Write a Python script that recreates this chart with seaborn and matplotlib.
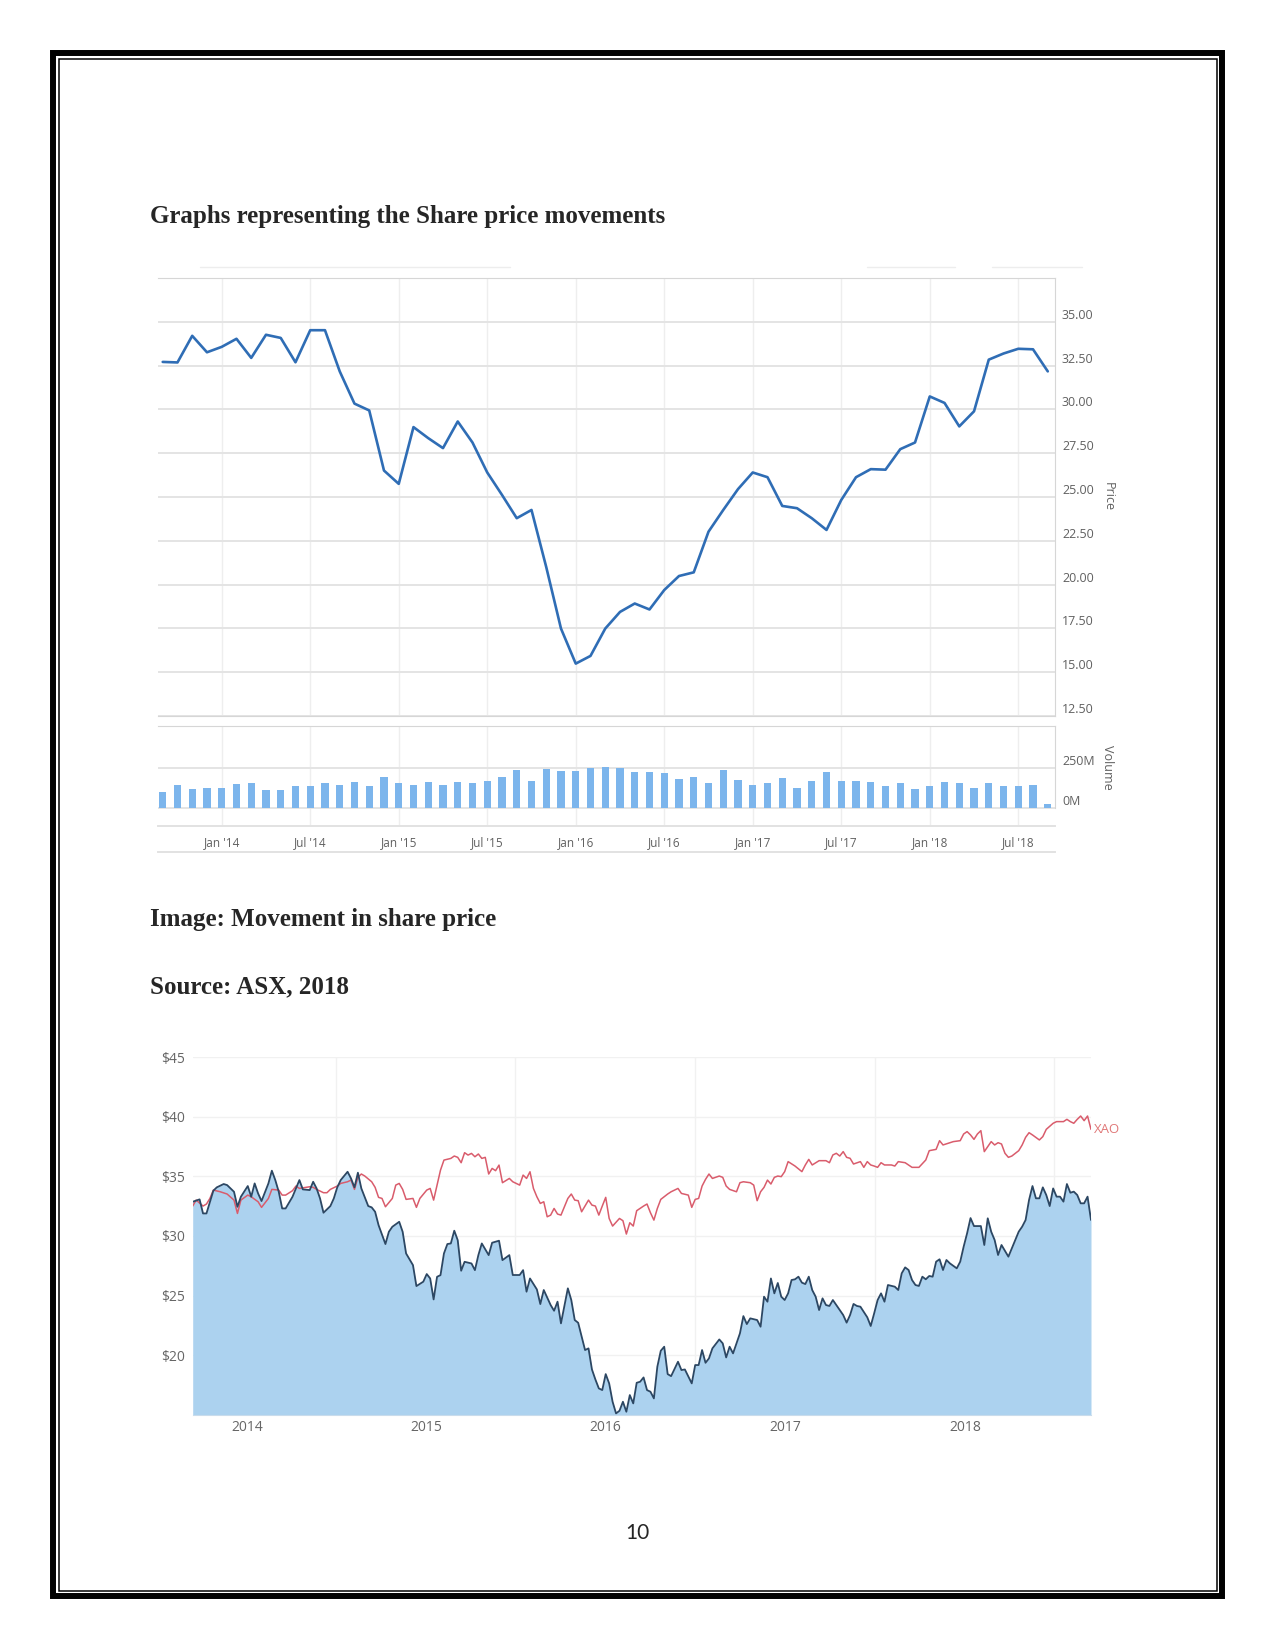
import numpy as np
import pandas as pd
import matplotlib.pyplot as plt
import matplotlib.dates as mdates
from matplotlib.patches import Rectangle
from matplotlib.lines import Line2D
import seaborn as sns

W, H = 1275, 1650

# --- chart 1: monthly share price and volume, Sep 2013 .. Sep 2018 ---
price = [32.71, 32.68, 34.20, 33.26,
         33.57, 34.03, 32.94, 34.26, 34.08, 32.69, 34.52, 34.52, 32.17, 30.33, 29.94, 26.51,
         25.75, 28.99, 28.36, 27.79, 29.31, 28.11, 26.40, 25.12, 23.79, 24.26, 21.00, 17.49,
         15.49, 15.93, 17.49, 18.44, 18.92, 18.58, 19.69, 20.49, 20.70, 23.02, 24.26, 25.45,
         26.40, 26.13, 24.49, 24.36, 23.79, 23.12, 24.83, 26.13, 26.59, 26.56, 27.73, 28.11,
         30.74, 30.37, 29.03, 29.89, 32.84, 33.19, 33.46, 33.43, 32.17]
volume_m = [102, 144, 117, 129,
            129, 150, 155, 112, 112, 138, 138, 155, 148, 163, 138, 197,
            155, 148, 163, 144, 163, 155, 172, 197, 237, 172, 244, 231,
            235, 250, 261, 250, 229, 229, 218, 182, 197, 155, 239, 176,
            144, 155, 191, 129, 172, 225, 172, 172, 165, 138, 155, 117,
            138, 165, 155, 123, 155, 138, 138, 144, 23]
month_ticks = [4, 10, 16, 22, 28, 34, 40, 46, 52, 58]
month_labels = ["Jan '14", "Jul '14", "Jan '15", "Jul '15", "Jan '16",
                "Jul '16", "Jan '17", "Jul '17", "Jan '18", "Jul '18"]
price_ticks = [12.5, 15, 17.5, 20, 22.5, 25, 27.5, 30, 32.5, 35]

# --- chart 2: weekly price vs XAO, weeks counted from 13 Sep 2013 ---
week0 = '2013-09-13'
stock_weeks = [0, 2, 3, 4, 6, 7, 9, 10, 12, 13, 14, 16, 17, 18, 19, 20, 22, 23, 24, 25,
               26, 27, 29, 30, 31, 32, 34, 35, 36, 37, 38, 40, 41, 42, 43, 45, 46, 47, 48, 49,
               51, 52, 53, 54, 56, 57, 58, 60, 61, 62, 64, 65, 67, 68, 69, 70, 71, 72, 73, 74,
               75, 76, 77, 78, 79, 81, 82, 83, 84, 86, 87, 89, 90, 92, 93, 95, 96, 97, 98, 100,
               101, 102, 104, 105, 106, 107, 109, 110, 111, 112, 114, 115, 116, 117, 118, 119, 120, 121, 122, 123,
               124, 125, 126, 127, 128, 129, 130, 131, 132, 133, 134, 135, 136, 137, 138, 139, 141, 142, 143, 145,
               146, 147, 148, 149, 150, 151, 153, 154, 155, 156, 157, 159, 160, 161, 162, 164, 165, 166, 167, 168,
               169, 170, 171, 172, 173, 174, 175, 176, 177, 178, 179, 180, 181, 182, 183, 184, 185, 186, 187, 188,
               189, 190, 191, 192, 193, 194, 196, 197, 198, 199, 200, 201, 202, 204, 205, 206, 207, 208, 209, 210,
               211, 212, 213, 214, 215, 216, 217, 218, 219, 220, 222, 223, 224, 225, 226, 227, 229, 230, 231, 232,
               233, 234, 235, 237, 238, 240, 241, 242, 243, 244, 245, 246, 247, 248, 249, 250, 251, 252, 253, 254,
               255, 256, 257, 258, 259, 260, 261]
stock_px = [32.87, 33.07, 31.89, 31.89, 33.80, 34.08, 34.36, 34.27, 33.71, 32.45, 33.29, 34.19, 33.29, 34.41, 33.57, 32.93, 34.41, 35.48, 34.69, 33.71,
            32.31, 32.31, 33.29, 33.99, 34.69, 33.91, 33.85, 34.55, 33.99, 33.15, 31.95, 32.51, 33.15, 34.08, 34.69, 35.39, 34.83, 34.08, 35.31, 33.99,
            32.51, 32.40, 32.03, 30.91, 29.32, 30.35, 30.77, 31.19, 30.35, 28.53, 27.55, 25.79, 26.16, 26.80, 26.43, 24.67, 26.57, 26.71, 28.53, 29.32,
            29.37, 30.44, 29.65, 27.08, 27.83, 27.69, 27.13, 28.39, 29.37, 28.39, 29.43, 29.60, 27.97, 28.39, 26.72, 26.72, 27.13, 25.32, 26.43, 25.51,
            24.28, 25.46, 24.20, 23.72, 24.48, 22.66, 25.60, 24.62, 22.94, 22.71, 20.42, 20.56, 18.79, 17.95, 17.20, 17.06, 18.40, 17.62, 16.08, 15.10,
            15.32, 16.08, 15.24, 16.64, 15.94, 17.67, 17.76, 18.12, 17.06, 16.92, 16.36, 19.02, 20.36, 20.70, 18.40, 18.23, 19.44, 18.74, 18.79, 17.62,
            19.16, 19.16, 20.42, 19.35, 19.72, 20.56, 21.31, 20.98, 19.80, 20.70, 20.14, 21.82, 23.27, 22.60, 23.08, 22.94, 22.38, 24.90, 24.48, 26.43,
            25.18, 26.05, 24.90, 24.62, 25.18, 26.30, 26.36, 26.58, 26.08, 25.96, 26.58, 25.46, 24.90, 23.78, 24.76, 24.20, 24.12, 24.62, 24.20, 23.78,
            23.36, 22.72, 23.36, 24.29, 24.12, 24.06, 23.17, 22.44, 23.50, 24.62, 25.18, 24.48, 25.88, 25.74, 25.46, 26.86, 27.36, 27.14, 26.30, 25.88,
            25.80, 26.58, 26.36, 26.64, 26.58, 27.84, 28.04, 27.14, 27.98, 27.70, 27.28, 27.84, 29.10, 30.22, 31.50, 30.83, 30.83, 29.24, 31.48, 30.36,
            29.66, 28.40, 29.24, 28.26, 28.96, 30.36, 30.78, 31.34, 33.02, 34.19, 33.16, 33.16, 34.08, 33.44, 32.51, 33.99, 33.30, 33.30, 32.88, 34.36,
            33.63, 33.72, 33.44, 32.74, 32.74, 33.30, 31.34]
xao_weeks = [0, 1, 3, 4, 5, 6, 8, 10, 12, 13, 14, 16, 17, 19, 20, 22, 23, 25, 26, 27,
             29, 30, 31, 33, 34, 35, 36, 38, 39, 40, 42, 43, 45, 46, 47, 48, 49, 50, 52, 53,
             54, 55, 56, 58, 59, 60, 61, 62, 64, 65, 66, 68, 69, 70, 71, 72, 73, 75, 76, 77,
             78, 79, 80, 81, 82, 83, 84, 85, 86, 87, 88, 89, 90, 92, 93, 95, 96, 97, 98, 99,
             100, 101, 102, 103, 104, 105, 106, 107, 109, 110, 111, 112, 113, 115, 116, 117, 118, 119, 120, 121,
             122, 124, 125, 126, 127, 128, 129, 131, 132, 133, 134, 135, 136, 137, 138, 139, 141, 142, 144, 145,
             146, 147, 148, 149, 150, 151, 153, 154, 155, 156, 158, 159, 160, 162, 163, 164, 165, 166, 167, 168,
             169, 170, 171, 172, 173, 175, 177, 178, 179, 180, 182, 184, 185, 186, 187, 188, 189, 190, 191, 192,
             194, 195, 196, 197, 198, 199, 200, 201, 203, 204, 205, 207, 208, 209, 211, 213, 214, 216, 217, 218,
             220, 221, 223, 224, 225, 226, 227, 228, 229, 230, 231, 232, 233, 234, 235, 236, 237, 238, 240, 241,
             242, 243, 244, 246, 247, 248, 250, 251, 253, 254, 255, 256, 257, 258, 259, 260, 261]
xao_px = [32.51, 33.01, 32.51, 32.68, 33.15, 33.85, 33.71, 33.52, 33.01, 31.89, 33.01, 33.43, 33.29, 32.87, 32.40, 33.15, 33.91, 33.85, 33.43, 33.43,
          33.80, 34.19, 33.99, 34.08, 34.13, 34.08, 33.91, 33.63, 33.63, 33.91, 34.19, 34.41, 34.55, 34.69, 33.91, 34.92, 35.20, 35.03, 34.55, 34.08,
          33.24, 33.15, 32.45, 33.15, 34.27, 34.41, 33.91, 33.07, 33.15, 32.40, 33.15, 33.85, 33.99, 33.01, 34.27, 35.53, 36.37, 36.51, 36.71, 36.60,
          36.15, 36.99, 36.79, 36.93, 36.65, 36.88, 36.51, 36.60, 35.20, 35.67, 35.48, 35.95, 34.47, 34.83, 34.55, 34.27, 35.11, 34.83, 35.39, 33.99,
          33.29, 32.73, 32.87, 31.61, 31.75, 32.31, 31.84, 31.75, 33.15, 33.52, 33.01, 32.96, 32.03, 33.01, 32.59, 32.51, 31.75, 32.51, 33.24, 31.47,
          30.83, 31.47, 31.28, 30.16, 31.11, 30.83, 32.12, 32.51, 32.68, 31.95, 31.33, 32.31, 33.07, 33.29, 33.52, 33.71, 33.99, 33.57, 33.43, 32.40,
          33.07, 33.15, 34.19, 34.75, 35.20, 34.83, 35.03, 34.92, 34.19, 33.91, 33.71, 34.47, 34.55, 34.47, 34.27, 32.96, 33.71, 34.08, 34.69, 34.36,
          34.92, 35.03, 34.98, 35.40, 36.24, 35.87, 35.40, 35.96, 36.43, 35.96, 36.32, 36.32, 36.15, 36.80, 36.94, 36.71, 37.08, 36.60, 36.52, 36.04,
          36.24, 35.76, 36.24, 35.96, 35.87, 35.76, 36.15, 35.96, 35.96, 35.87, 36.24, 36.15, 35.96, 35.76, 35.76, 36.38, 37.16, 37.27, 38.00, 37.64,
          37.83, 37.92, 38.00, 38.56, 38.76, 38.48, 38.11, 38.56, 38.84, 37.08, 37.50, 37.92, 37.64, 37.83, 37.72, 36.94, 36.60, 36.71, 37.16, 37.64,
          38.28, 38.67, 38.48, 38.06, 38.34, 38.95, 39.46, 39.60, 39.60, 39.79, 39.60, 39.46, 39.79, 40.07, 39.68, 40.07, 38.95]
dollar_ticks = [20, 25, 30, 35, 40, 45]


def box(x0, y0, x1, y1):
    # pixel box on the page -> figure fraction rect
    return [x0 / W, 1 - y1 / H, (x1 - x0) / W, (y1 - y0) / H]


sns.set_style('white')
plt.rcParams['font.family'] = ['Open Sans', 'DejaVu Sans']
fig = plt.figure(figsize=(W / 100, H / 100), dpi=100)

tick_gray = '#606060'
grid_h = '#e4e4e4'
grid_v = '#eeeeee'
frame = '#d6d6d6'
xmin, xmax = -0.32, 60.49

df1 = pd.DataFrame({'m': np.arange(len(price)), 'price': price, 'vol': volume_m})

# price panel
ax1 = fig.add_axes(box(158, 278, 1055, 716))
sns.lineplot(data=df1, x='m', y='price', ax=ax1, color='#2f6db5', lw=1.9)
ax1.set_xlim(xmin, xmax)
ax1.set_ylim(12.5, 37.5)
ax1.set_yticks(price_ticks, [f'{v:.2f}' for v in price_ticks])
ax1.set_xticks(month_ticks, [''] * len(month_ticks))
ax1.yaxis.tick_right()
ax1.grid(axis='y', color=grid_h, lw=1.4)
ax1.grid(axis='x', color=grid_v, lw=1)
ax1.tick_params(length=0, labelsize=9, labelcolor=tick_gray, pad=5)
for t in ax1.get_yticklabels():
    t.set_verticalalignment('bottom')
for s in ['top', 'right', 'bottom']:
    ax1.spines[s].set_color(frame)
ax1.spines['left'].set_visible(False)
ax1.set_xlabel('')
ax1.yaxis.set_label_position('right')
ax1.set_ylabel('Price', rotation=270, color=tick_gray, fontsize=9, va='center', ha='center')
ax1.yaxis.set_label_coords((1108 - 158) / (1055 - 158), 0.5)

# volume panel
ax2 = fig.add_axes(box(158, 726, 1055, 826))
sns.barplot(data=df1, x='m', y='vol', native_scale=True, ax=ax2, color='#7cb5ec',
            saturation=1, width=0.48, errorbar=None, linewidth=0)
ax2.set_xlim(xmin, xmax)
ax2.set_ylim(-113.4, 516.6)
ax2.set_yticks([0, 250], ['0M', '250M'])
ax2.set_xticks(month_ticks, [''] * len(month_ticks))
ax2.yaxis.tick_right()
ax2.grid(axis='y', color=grid_h, lw=1.4)
ax2.grid(axis='x', color=grid_v, lw=1)
ax2.set_axisbelow(True)
ax2.tick_params(length=0, labelsize=9, labelcolor=tick_gray, pad=5)
for t in ax2.get_yticklabels():
    t.set_verticalalignment('bottom')
ax2.spines['top'].set_color(frame)
ax2.spines['right'].set_color(frame)
ax2.spines['right'].set_bounds(0, 516.6)
ax2.spines['left'].set_visible(False)
ax2.spines['bottom'].set_visible(False)
ax2.set_xlabel('')
ax2.yaxis.set_label_position('right')
ax2.set_ylabel('Volume', rotation=270, color=tick_gray, fontsize=9, va='center', ha='center')
ax2.yaxis.set_label_coords((1108 - 158) / (1055 - 158), 0.59)

# date strip under the panels
ax_s = fig.add_axes(box(158, 826, 1055, 852))
ax_s.set_xlim(xmin, xmax)
ax_s.set_ylim(0, 1)
ax_s.set_yticks([])
ax_s.set_xticks(month_ticks, month_labels)
ax_s.tick_params(axis='x', length=0, labelsize=8.5, labelcolor=tick_gray, pad=-11.5)
for s in ['left', 'right']:
    ax_s.spines[s].set_visible(False)
for s in ['top', 'bottom']:
    ax_s.spines[s].set_color('#e2e2e2')
    ax_s.spines[s].set_linewidth(1.4)

# faint range-selector remnants above the first chart
for x0, x1 in [(200, 510), (867, 955), (992, 1082)]:
    fig.add_artist(Line2D([x0 / W, x1 / W], [1 - 267 / H] * 2, color='#ededed', lw=1))

# --- chart 2 ---
start = pd.Timestamp(week0)
df_s = pd.DataFrame({'date': start + pd.to_timedelta(np.array(stock_weeks) * 7, unit='D'),
                     'price': stock_px})
df_x = pd.DataFrame({'date': start + pd.to_timedelta(np.array(xao_weeks) * 7, unit='D'),
                     'price': xao_px})

ax3 = fig.add_axes(box(192.7, 1057.3, 1091, 1414.6))
ax3.fill_between(df_s['date'], df_s['price'], 15, color='#acd2ef', lw=0)
sns.lineplot(data=df_x, x='date', y='price', ax=ax3, color='#d95c6c', lw=1.1)
sns.lineplot(data=df_s, x='date', y='price', ax=ax3, color='#2c4763', lw=1.3)
ax3.set_xlim(df_s['date'].iloc[0], df_s['date'].iloc[-1])
ax3.set_ylim(15, 45)
ax3.set_yticks(dollar_ticks, [f'${v}' for v in dollar_ticks])
ax3.xaxis.set_major_locator(mdates.YearLocator())
ax3.xaxis.set_major_formatter(mdates.DateFormatter('%Y'))
ax3.xaxis.set_minor_locator(mdates.MonthLocator(bymonth=[1, 7]))
ax3.grid(axis='y', color='#f1f1f1', lw=1)
ax3.grid(axis='x', which='minor', color='#f1f1f1', lw=1)
ax3.set_axisbelow(True)
ax3.tick_params(axis='both', which='both', length=0, labelsize=10, labelcolor='#666666')
ax3.tick_params(axis='y', pad=5.5)
ax3.tick_params(axis='x', pad=4)
for s in ['top', 'right', 'left']:
    ax3.spines[s].set_visible(False)
ax3.spines['bottom'].set_color('#c9dcec')
ax3.set_xlabel('')
ax3.set_ylabel('')
ax3.annotate('XAO', xy=(df_x['date'].iloc[-1], xao_px[-1]), xytext=(2, 0),
             textcoords='offset points', va='center', ha='left', fontsize=9.5,
             color='#e07878', annotation_clip=False)

# --- page text ---
serif = ['Liberation Serif', 'DejaVu Serif']
fig.text(150 / W, 1 - 223 / H, 'Graphs representing the Share price movements',
         family=serif, weight='bold', fontsize=18, va='baseline', ha='left')
fig.text(150 / W, 1 - 926 / H, 'Image: Movement in share price',
         family=serif, weight='bold', fontsize=18, va='baseline', ha='left')
fig.text(150 / W, 1 - 993 / H, 'Source: ASX, 2018',
         family=serif, weight='bold', fontsize=18, va='baseline', ha='left')
fig.text(637.5 / W, 1 - 1533 / H, '10', family=['Lato', 'DejaVu Sans'],
         fontsize=15, va='center', ha='center')

# page border: thick outer line, thin inner line
fig.add_artist(Rectangle((53 / W, 1 - 1596 / H), (1222 - 53) / W, (1596 - 53) / H,
                         transform=fig.transFigure, fill=False, lw=4.3, ec='black',
                         joinstyle='miter'))
fig.add_artist(Rectangle((58.5 / W, 1 - 1591 / H), (1216.5 - 58.5) / W, (1591 - 58.5) / H,
                         transform=fig.transFigure, fill=False, lw=1.1, ec='black',
                         joinstyle='miter'))

fig.savefig('out.png', dpi=100, facecolor='white')
